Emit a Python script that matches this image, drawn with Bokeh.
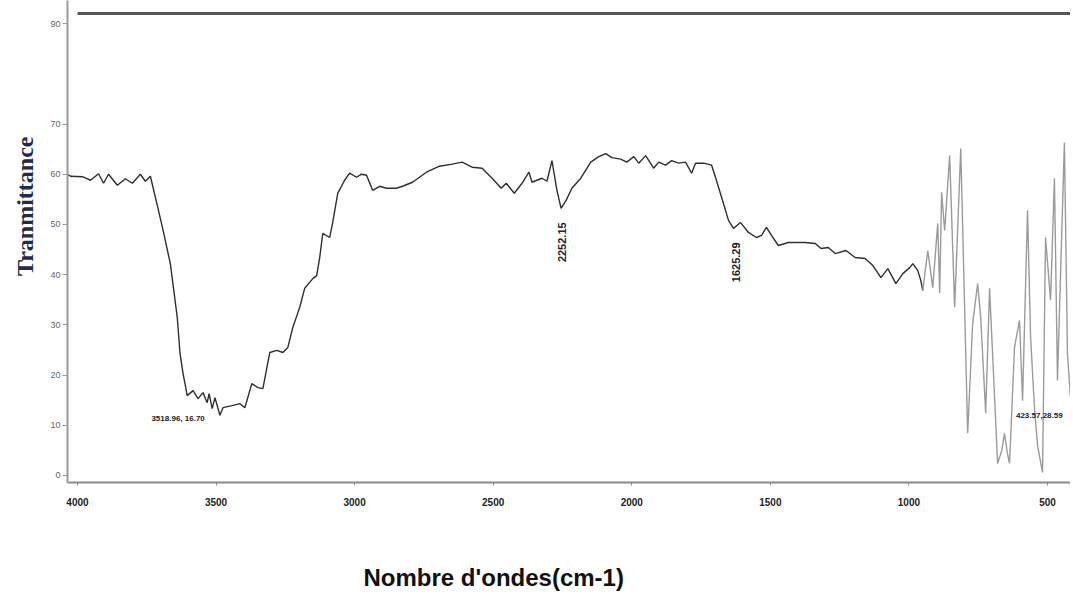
import math
from bokeh.plotting import figure
from bokeh.models import Range1d, FixedTicker, Label, Title
from bokeh.embed import file_html
from bokeh.resources import INLINE

# ---- data ----
wavenumber_main = [4036, 4025, 3982, 3953, 3924, 3906, 3888, 3856, 3827, 3802, 3773, 3755, 3737,
                   3712, 3691, 3665, 3640, 3630, 3619, 3604, 3583, 3565, 3547, 3532, 3525, 3514,
                   3504, 3486, 3475, 3442, 3414, 3396, 3371, 3349, 3331, 3306, 3281, 3259, 3241,
                   3223, 3198, 3180, 3151, 3137, 3126, 3115, 3090, 3079, 3061, 3036, 3018, 2993,
                   2975, 2957, 2935, 2910, 2885, 2849, 2827, 2791, 2741, 2694, 2648, 2612, 2576,
                   2540, 2504, 2471, 2453, 2424, 2396, 2371, 2360, 2324, 2306, 2288, 2270, 2255,
                   2237, 2216, 2184, 2148, 2119, 2094, 2072, 2040, 2018, 1993, 1975, 1950, 1921,
                   1903, 1878, 1856, 1831, 1806, 1784, 1770, 1741, 1712, 1698, 1676, 1651, 1633,
                   1608, 1579, 1550, 1532, 1514, 1496, 1471, 1435, 1374, 1338, 1317, 1291, 1266,
                   1227, 1194, 1158, 1130, 1101, 1076, 1047, 1022, 997, 986, 968, 957, 950]
transmittance_main = [60.0, 59.6, 59.5, 58.8, 60.1, 58.2, 60.0, 57.8, 59.1, 58.2, 60.0, 58.6, 59.6,
                      53.8, 48.8, 42.2, 31.5, 24.3, 20.3, 15.9, 16.9, 15.3, 16.5, 14.5, 16.3, 13.3,
                      15.5, 12.0, 13.5, 13.9, 14.3, 13.5, 18.3, 17.5, 17.3, 24.5, 24.9, 24.5, 25.5,
                      29.5, 33.5, 37.3, 39.2, 39.8, 43.4, 48.2, 47.4, 50.4, 56.2, 58.8, 60.2, 59.4,
                      60.0, 59.8, 56.8, 57.6, 57.2, 57.2, 57.6, 58.4, 60.4, 61.6, 62.0, 62.4, 61.4,
                      61.2, 59.2, 57.2, 58.2, 56.2, 58.2, 60.4, 58.4, 59.2, 58.6, 62.7, 56.8, 53.2,
                      54.8, 57.2, 59.2, 62.4, 63.5, 64.1, 63.3, 63.0, 62.4, 63.5, 62.2, 63.7, 61.2,
                      62.4, 61.8, 62.7, 62.2, 62.4, 60.2, 62.2, 62.2, 61.8, 59.4, 55.4, 50.8, 49.2,
                      50.4, 48.4, 47.4, 47.8, 49.4, 47.8, 45.8, 46.4, 46.4, 46.2, 45.2, 45.4, 44.2,
                      44.8, 43.4, 43.2, 41.8, 39.4, 41.2, 38.2, 40.2, 41.4, 42.2, 40.8, 38.8, 36.8]

wavenumber_fp = [950, 932, 914, 896, 889, 882, 871, 853, 835, 813, 788, 770, 752, 741, 723, 709,
                 680, 665, 655, 645, 637, 619, 601, 590, 572, 561, 547, 536, 518, 507, 489, 475,
                 464, 439, 428, 417]
transmittance_fp = [36.8, 44.8, 37.4, 50.2, 36.3, 56.4, 48.8, 63.7, 33.5, 65.1, 8.4, 30.3, 38.2,
                    31.5, 12.4, 37.3, 2.4, 5.0, 8.4, 4.5, 2.4, 25.5, 30.9, 14.9, 52.8, 27.5, 13.5,
                    6.0, 0.6, 47.4, 34.9, 59.2, 18.9, 66.3, 24.3, 15.5]

x_ticks = [4000, 3500, 3000, 2500, 2000, 1500, 1000, 500]
y_ticks = [0, 10, 20, 30, 40, 50, 60, 70, 90]
top_line_level = 92

peak_text = ["3518.96, 16.70", "2252.15", "1625.29", "423.57,28.59"]
peak_x = [3518.96, 2252.15, 1625.29, 423.57]
peak_y = [16.70, 53.2, 49.2, 28.59]

x_title = "Nombre d'ondes(cm-1)"
y_title = "Tranmittance"

# ---- figure ----
p = figure(width=1070, height=595, output_backend="svg", toolbar_location=None,
           x_range=Range1d(4036, 417), y_range=Range1d(-1.4, 94.6),
           min_border_left=67, min_border_right=0, min_border_top=0, min_border_bottom=0)
p.outline_line_color = None
p.xgrid.visible = False
p.ygrid.visible = False
p.background_fill_color = "white"

p.line(wavenumber_main, transmittance_main, line_color="#2e2e2e", line_width=1.4)
p.line(wavenumber_fp, transmittance_fp, line_color="#9a9a9a", line_width=1.4)
p.segment(x0=[x_ticks[0]], y0=[top_line_level], x1=[p.x_range.end], y1=[top_line_level],
          line_color="#555555", line_width=3)

# axes
xa = p.xaxis[0]
xa.ticker = FixedTicker(ticks=x_ticks)
xa.axis_line_color = "#8a8a8a"
xa.axis_line_width = 2
xa.major_tick_line_color = "#8a8a8a"
xa.major_tick_out = 3
xa.major_tick_in = 0
xa.minor_tick_line_color = None
xa.major_label_text_font = "Liberation Sans"
xa.major_label_text_font_style = "bold"
xa.major_label_text_font_size = "10px"
xa.major_label_text_color = "#222222"
xa.major_label_standoff = 12
# blank spacer label: reserves room between tick labels and the title below
xa.axis_label = " "
xa.axis_label_text_font_size = "23px"
xa.axis_label_standoff = 19

ya = p.yaxis[0]
ya.ticker = FixedTicker(ticks=y_ticks)
ya.axis_line_color = "#9a9a9a"
ya.axis_line_width = 2
ya.major_tick_line_color = "#9a9a9a"
ya.major_tick_out = 5
ya.major_tick_in = 0
ya.minor_tick_line_color = None
ya.major_label_text_font = "Liberation Sans"
ya.major_label_text_font_size = "9px"
ya.major_label_text_color = "#666666"
ya.major_label_standoff = 2

# peak annotations
ann_font = "Liberation Sans"
p.add_layout(Label(x=peak_x[0], y=peak_y[0], text=peak_text[0], x_offset=-6, y_offset=-27,
                   text_align="right", text_baseline="middle", text_font=ann_font,
                   text_font_style="bold", text_font_size="8px", text_color="#222222"))
p.add_layout(Label(x=peak_x[1], y=peak_y[1], text=peak_text[1], y_offset=-14, angle=math.pi / 2,
                   text_align="right", text_baseline="middle", text_font=ann_font,
                   text_font_style="bold", text_font_size="11px", text_color="#222222"))
p.add_layout(Label(x=peak_x[2], y=peak_y[2], text=peak_text[2], y_offset=-14, angle=math.pi / 2,
                   text_align="right", text_baseline="middle", text_font=ann_font,
                   text_font_style="bold", text_font_size="11px", text_color="#222222"))
p.add_layout(Label(x=peak_x[3], y=peak_y[3], text=peak_text[3], x_offset=-6, y_offset=-84,
                   text_align="right", text_baseline="middle", text_font=ann_font,
                   text_font_style="bold", text_font_size="8px", text_color="#222222"))

# axis titles
p.add_layout(Title(text=x_title, align="left", offset=296, standoff=10, vertical_align="bottom",
                   text_font="Liberation Sans", text_font_style="bold",
                   text_font_size="24px", text_color="#111111"), "below")
p.add_layout(Title(text=y_title, align="right", offset=136, standoff=17, vertical_align="middle",
                   text_font="Liberation Serif", text_font_style="bold",
                   text_font_size="24px", text_color="#1d2d4d"), "left")

open("out.html", "w").write(file_html(p, INLINE))
